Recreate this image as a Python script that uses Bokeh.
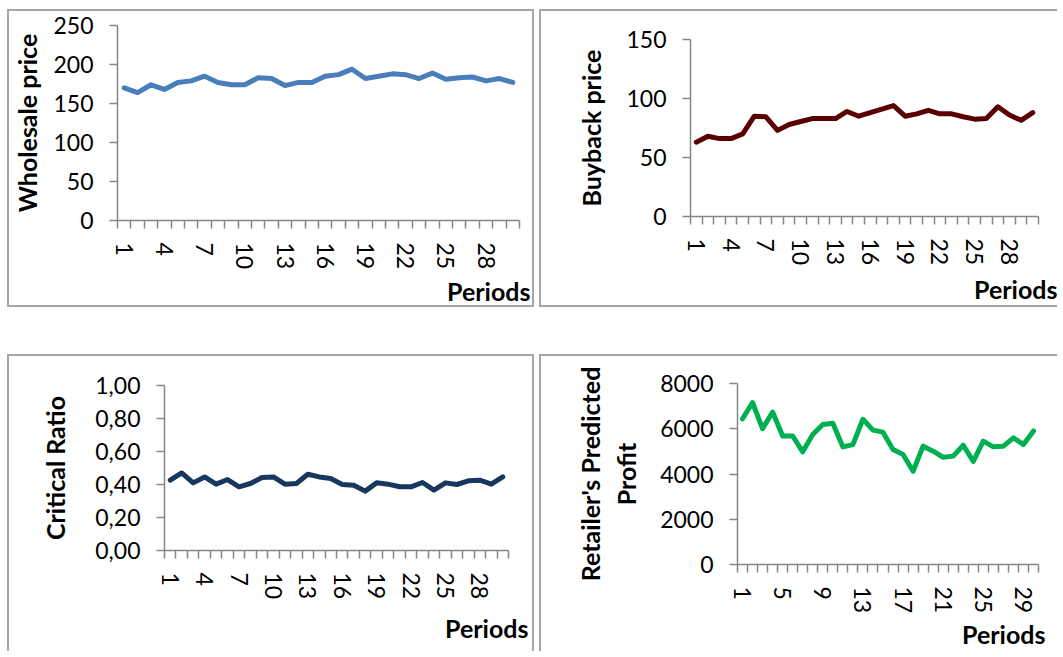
from bokeh.plotting import figure
from bokeh.layouts import row, column
from bokeh.models import Range1d, FixedTicker, Title, CustomJSTickFormatter
from bokeh.embed import file_html
from bokeh.resources import INLINE

# ---- data ----
periods = list(range(1, 31))
wholesale = [170, 164, 174, 168, 177, 179, 185, 177, 174, 174, 183, 182, 173, 177, 177,
             185, 187, 194, 182, 185, 188, 187, 182, 189, 181, 183, 184, 179, 182, 177]
buyback = [63, 68, 66, 66, 70, 85, 84.5, 73, 78, 80.5, 83, 83, 83, 89, 85, 88, 91, 94,
           85, 87, 90, 87, 87, 84.5, 82.5, 83, 93, 86, 81.5, 88]
critical = [0.426, 0.47, 0.41, 0.446, 0.402, 0.43, 0.386, 0.406, 0.442, 0.446, 0.402,
            0.406, 0.462, 0.446, 0.436, 0.40, 0.396, 0.36, 0.41, 0.402, 0.386, 0.386,
            0.412, 0.366, 0.41, 0.40, 0.422, 0.426, 0.402, 0.446]
profit = [6440, 7160, 6000, 6740, 5680, 5680, 4980, 5750, 6190, 6240, 5200, 5300, 6420,
          5940, 5850, 5080, 4860, 4120, 5230, 5010, 4740, 4790, 5270, 4560, 5450, 5200,
          5230, 5600, 5300, 5900]

x_labels_a = [1, 4, 7, 10, 13, 16, 19, 22, 25, 28]
x_labels_b = [1, 5, 9, 13, 17, 21, 25, 29]
y_ticks_w = [0, 50, 100, 150, 200, 250]
y_ticks_b = [0, 50, 100, 150]
y_ticks_c = [0, 0.2, 0.4, 0.6, 0.8, 1.0]
y_ticks_p = [0, 2000, 4000, 6000, 8000]

FONT = "Lato"
AX = "#868686"
BORDER = "#a6a6a6"
BW = 2
TICK_FS = "23px"
LAB_FS = "25px"


def panel(host, sides, frame, yr, yticks, ylabel, xticks, color, ydata,
          label_standoff, x_standoff, per_offset, per_standoff, fmt=None):
    hx, hy, hw, hh = host
    bl = BW if "l" in sides else 0
    br = BW if "r" in sides else 0
    bt = BW if "t" in sides else 0
    bb = BW if "b" in sides else 0
    cx, cy = hx + bl, hy + bt
    cw, ch = hw - bl - br, hh - bt - bb
    fl, fr, ft, fb = frame
    p = figure(width=cw, height=ch, output_backend="svg", toolbar_location=None,
               x_range=Range1d(0.5, 30.5), y_range=Range1d(*yr),
               min_border_left=round(fl - cx), min_border_right=round(cx + cw - fr),
               min_border_top=round(ft - cy), min_border_bottom=round(cy + ch - fb))
    p.title.text = ""
    p.title.text_font_size = "0px"
    p.title.standoff = 0
    p.title.offset = 0
    try:
        p.title_location = None
    except Exception:
        pass
    p.outline_line_color = None
    p.xgrid.visible = False
    p.ygrid.visible = False
    p.background_fill_color = "white"
    p.border_fill_color = "white"
    st = {}
    side_names = {"l": "left", "r": "right", "t": "top", "b": "bottom"}
    for s in sides:
        st["border-" + side_names[s]] = f"{BW}px solid {BORDER}"
    p.styles = st

    p.line(x=periods, y=ydata, line_width=5, line_color=color,
           line_join="round", line_cap="round")

    xa = p.xaxis[0]
    xa.ticker = FixedTicker(ticks=xticks, minor_ticks=[i + 0.5 for i in range(0, 31)])
    xa.axis_line_color = AX
    xa.axis_line_width = 1.5
    xa.major_tick_line_color = None
    xa.major_tick_out = 8
    xa.major_tick_in = 0
    xa.minor_tick_line_color = AX
    xa.minor_tick_line_width = 1.5
    xa.minor_tick_out = 8
    xa.minor_tick_in = 0
    xa.major_label_orientation = "vertical"
    xa.major_label_standoff = x_standoff
    xa.major_label_text_font = FONT
    xa.major_label_text_font_size = TICK_FS
    xa.major_label_text_color = "black"

    ya = p.yaxis[0]
    ya.ticker = FixedTicker(ticks=yticks)
    ya.axis_line_color = AX
    ya.axis_line_width = 1.5
    ya.major_tick_line_color = AX
    ya.major_tick_line_width = 1.5
    ya.major_tick_out = 8
    ya.major_tick_in = 0
    ya.minor_tick_line_color = None
    ya.major_label_standoff = 16
    ya.major_label_text_font = FONT
    ya.major_label_text_font_size = TICK_FS
    ya.major_label_text_color = "black"
    if fmt is not None:
        ya.formatter = fmt
    ya.axis_label = ylabel
    ya.axis_label_standoff = label_standoff
    ya.axis_label_text_font = FONT
    ya.axis_label_text_font_size = LAB_FS
    ya.axis_label_text_font_style = "bold"
    ya.axis_label_text_color = "black"

    tb = Title(text="Periods", align="right", offset=per_offset, standoff=per_standoff,
               text_font=FONT, text_font_size=LAB_FS, text_font_style="bold",
               text_color="black")
    p.add_layout(tb, "below")
    return p


p1 = panel((7, 9, 531, 302), "ltrb", (111, 519, 25, 220), (0, 250), y_ticks_w,
           "Wholesale price", x_labels_a, "#4a7ebb", wholesale, 8, 14, -11, 2)
p2 = panel((543, 9, 520, 302), "ltb", (694, 1042, 39, 216), (0, 150), y_ticks_b,
           "Buyback price", x_labels_a, "#5a0000", buyback, 17, 14, -19, 6)
p3 = panel((7, 358, 531, 299), "ltr", (164, 508, 389, 554), (0, 1), y_ticks_c,
           "Critical Ratio", x_labels_a, "#17375e", critical, 22, 14, -20, 16,
           fmt=CustomJSTickFormatter(code="return tick.toFixed(2).replace('.', ',');"))
p4 = panel((543, 358, 520, 299), "lt", (741, 1042, 387, 568), (0, 8000), y_ticks_p,
           "Retailer's Predicted\nProfit", x_labels_b, "#00b050",
           profit, 16, 14, -7, 0)

# each figure in its own wrapper so that Bokeh does not align frames across a row
layout = column(row(column(p1), column(p2), spacing=5),
                row(column(p3), column(p4), spacing=5),
                spacing=47, margin=(9, 0, 0, 7))

open("out.html", "w").write(file_html(layout, INLINE))
